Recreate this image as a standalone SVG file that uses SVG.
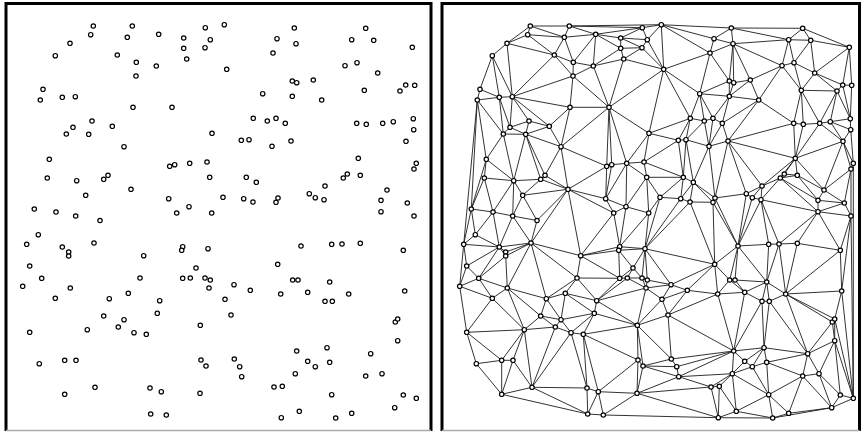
<svg xmlns="http://www.w3.org/2000/svg" width="861" height="432" viewBox="0 0 861 432">
<style>
.frame{stroke:#000;stroke-width:3;fill:none}
.base{stroke:#aaa;stroke-width:1.5;fill:none}
.e{stroke:#1c1c1c;stroke-width:0.9;fill:none;stroke-linecap:round}
.p circle{fill:#fff;stroke:#000;stroke-width:1.2}
</style>
<defs>
<g id="pts" class="p">
<circle cx="93.3" cy="26" r="2.2"/><circle cx="132.3" cy="26" r="2.2"/><circle cx="205.3" cy="27.7" r="2.2"/><circle cx="90.7" cy="34.7" r="2.2"/><circle cx="127.3" cy="37.3" r="2.2"/><circle cx="158.7" cy="34.3" r="2.2"/><circle cx="183.7" cy="38" r="2.2"/><circle cx="210.3" cy="39.7" r="2.2"/><circle cx="70" cy="43.3" r="2.2"/><circle cx="183.7" cy="48.3" r="2.2"/><circle cx="205" cy="47.7" r="2.2"/><circle cx="55.3" cy="55.7" r="2.2"/><circle cx="117.3" cy="55" r="2.2"/><circle cx="136.3" cy="62.3" r="2.2"/><circle cx="156.3" cy="66" r="2.2"/><circle cx="186.7" cy="59" r="2.2"/><circle cx="136" cy="76" r="2.2"/><circle cx="43" cy="89.3" r="2.2"/><circle cx="40.3" cy="100" r="2.2"/><circle cx="62.3" cy="97.3" r="2.2"/><circle cx="75.3" cy="96.7" r="2.2"/><circle cx="133" cy="107.3" r="2.2"/><circle cx="172" cy="107.3" r="2.2"/><circle cx="92" cy="121" r="2.2"/><circle cx="73" cy="127.3" r="2.2"/><circle cx="66.3" cy="134" r="2.2"/><circle cx="88.7" cy="134.3" r="2.2"/><circle cx="112.3" cy="126.3" r="2.2"/><circle cx="212" cy="133.3" r="2.2"/><circle cx="124" cy="146.7" r="2.2"/><circle cx="49.3" cy="159.3" r="2.2"/><circle cx="169.7" cy="166.3" r="2.2"/><circle cx="174.7" cy="164.7" r="2.2"/><circle cx="189.7" cy="163.3" r="2.2"/><circle cx="207" cy="162" r="2.2"/><circle cx="47.3" cy="178" r="2.2"/><circle cx="76.7" cy="180.7" r="2.2"/><circle cx="103.7" cy="179.3" r="2.2"/><circle cx="108" cy="175.3" r="2.2"/><circle cx="209.7" cy="177.3" r="2.2"/><circle cx="131" cy="189.3" r="2.2"/><circle cx="85.7" cy="195.3" r="2.2"/><circle cx="168.7" cy="198.7" r="2.2"/><circle cx="189" cy="206.7" r="2.2"/><circle cx="34.3" cy="209" r="2.2"/><circle cx="56" cy="212" r="2.2"/><circle cx="75.7" cy="216" r="2.2"/><circle cx="176.7" cy="213" r="2.2"/><circle cx="211.7" cy="213" r="2.2"/><circle cx="100" cy="220.5" r="2.2"/>
<circle cx="224.3" cy="24.7" r="2.2"/><circle cx="294.3" cy="28" r="2.2"/><circle cx="365.7" cy="28.3" r="2.2"/><circle cx="277" cy="38.7" r="2.2"/><circle cx="296" cy="43.7" r="2.2"/><circle cx="351.7" cy="39.7" r="2.2"/><circle cx="373.7" cy="40.3" r="2.2"/><circle cx="412.3" cy="47.3" r="2.2"/><circle cx="273" cy="53" r="2.2"/><circle cx="226.7" cy="69.3" r="2.2"/><circle cx="345" cy="65.7" r="2.2"/><circle cx="357" cy="62.7" r="2.2"/><circle cx="377.7" cy="73" r="2.2"/><circle cx="292.3" cy="81" r="2.2"/><circle cx="296.7" cy="82.7" r="2.2"/><circle cx="313.3" cy="80" r="2.2"/><circle cx="262.7" cy="93.7" r="2.2"/><circle cx="292.3" cy="96.3" r="2.2"/><circle cx="321.7" cy="100" r="2.2"/><circle cx="364.3" cy="90.3" r="2.2"/><circle cx="400" cy="91" r="2.2"/><circle cx="405.7" cy="85" r="2.2"/><circle cx="414.7" cy="85.3" r="2.2"/><circle cx="253.3" cy="118.3" r="2.2"/><circle cx="267.3" cy="121" r="2.2"/><circle cx="276" cy="118.3" r="2.2"/><circle cx="285.3" cy="123.3" r="2.2"/><circle cx="356.7" cy="123.3" r="2.2"/><circle cx="366.3" cy="124.3" r="2.2"/><circle cx="382.7" cy="123.3" r="2.2"/><circle cx="393.3" cy="121.7" r="2.2"/><circle cx="413.3" cy="118.7" r="2.2"/><circle cx="413.7" cy="129.7" r="2.2"/><circle cx="241.3" cy="140.3" r="2.2"/><circle cx="249" cy="139.7" r="2.2"/><circle cx="272" cy="146.3" r="2.2"/><circle cx="291" cy="141" r="2.2"/><circle cx="406" cy="141.3" r="2.2"/><circle cx="358.3" cy="158.3" r="2.2"/><circle cx="416.3" cy="163.3" r="2.2"/><circle cx="414" cy="169" r="2.2"/><circle cx="246.3" cy="177.3" r="2.2"/><circle cx="256.3" cy="182.3" r="2.2"/><circle cx="343.3" cy="178" r="2.2"/><circle cx="347.3" cy="174" r="2.2"/><circle cx="360.3" cy="175.3" r="2.2"/><circle cx="325" cy="186" r="2.2"/><circle cx="223" cy="197.3" r="2.2"/><circle cx="243.7" cy="198.7" r="2.2"/><circle cx="253" cy="202" r="2.2"/><circle cx="276" cy="202.3" r="2.2"/><circle cx="278" cy="198" r="2.2"/><circle cx="309.3" cy="193.7" r="2.2"/><circle cx="315.3" cy="197.7" r="2.2"/><circle cx="324" cy="199.7" r="2.2"/><circle cx="387" cy="190" r="2.2"/><circle cx="381" cy="200.3" r="2.2"/><circle cx="407.3" cy="203" r="2.2"/><circle cx="381" cy="211.7" r="2.2"/><circle cx="414" cy="216" r="2.2"/>
<circle cx="38.3" cy="234.7" r="2.2"/><circle cx="26.7" cy="244.3" r="2.2"/><circle cx="62.3" cy="247" r="2.2"/><circle cx="68.7" cy="252" r="2.2"/><circle cx="68.7" cy="256" r="2.2"/><circle cx="94" cy="243" r="2.2"/><circle cx="143.7" cy="255.7" r="2.2"/><circle cx="182.7" cy="246.7" r="2.2"/><circle cx="181.7" cy="250.3" r="2.2"/><circle cx="208" cy="248.7" r="2.2"/><circle cx="29.7" cy="266" r="2.2"/><circle cx="41.7" cy="278.3" r="2.2"/><circle cx="22.7" cy="286.3" r="2.2"/><circle cx="70.3" cy="288" r="2.2"/><circle cx="140" cy="278" r="2.2"/><circle cx="182.7" cy="278.3" r="2.2"/><circle cx="190.3" cy="278" r="2.2"/><circle cx="205" cy="278" r="2.2"/><circle cx="210.3" cy="280" r="2.2"/><circle cx="209" cy="288" r="2.2"/><circle cx="55.3" cy="298.3" r="2.2"/><circle cx="109.3" cy="298.7" r="2.2"/><circle cx="128.3" cy="293.3" r="2.2"/><circle cx="159.7" cy="300.7" r="2.2"/><circle cx="196" cy="268" r="2.2"/><circle cx="157.3" cy="313.3" r="2.2"/><circle cx="103.7" cy="316" r="2.2"/><circle cx="124" cy="319.7" r="2.2"/><circle cx="118.3" cy="327" r="2.2"/><circle cx="87.3" cy="329.7" r="2.2"/><circle cx="134" cy="332.7" r="2.2"/><circle cx="146.3" cy="334.3" r="2.2"/><circle cx="29.7" cy="332.3" r="2.2"/><circle cx="200.3" cy="325.3" r="2.2"/><circle cx="64.7" cy="360.3" r="2.2"/><circle cx="76" cy="360.3" r="2.2"/><circle cx="39.3" cy="363.7" r="2.2"/><circle cx="201" cy="360" r="2.2"/><circle cx="206" cy="366" r="2.2"/><circle cx="95" cy="387.3" r="2.2"/><circle cx="64.7" cy="394.3" r="2.2"/><circle cx="150" cy="388" r="2.2"/><circle cx="161.3" cy="391.7" r="2.2"/><circle cx="200" cy="393.3" r="2.2"/><circle cx="150.7" cy="414" r="2.2"/><circle cx="166.3" cy="415" r="2.2"/>
<circle cx="301" cy="246" r="2.2"/><circle cx="331.7" cy="244.3" r="2.2"/><circle cx="342" cy="244" r="2.2"/><circle cx="360.3" cy="243.3" r="2.2"/><circle cx="403.3" cy="250.3" r="2.2"/><circle cx="277.7" cy="264.3" r="2.2"/><circle cx="292.7" cy="280" r="2.2"/><circle cx="298" cy="280" r="2.2"/><circle cx="329.7" cy="282" r="2.2"/><circle cx="234" cy="284.7" r="2.2"/><circle cx="250.3" cy="290.3" r="2.2"/><circle cx="280.7" cy="294" r="2.2"/><circle cx="307.7" cy="292.3" r="2.2"/><circle cx="348.7" cy="294" r="2.2"/><circle cx="404.7" cy="291" r="2.2"/><circle cx="225" cy="299.3" r="2.2"/><circle cx="325" cy="301.3" r="2.2"/><circle cx="332.3" cy="301.3" r="2.2"/><circle cx="231" cy="315" r="2.2"/><circle cx="395.3" cy="322" r="2.2"/><circle cx="397.7" cy="319" r="2.2"/><circle cx="397.7" cy="340.7" r="2.2"/><circle cx="296.7" cy="351" r="2.2"/><circle cx="327" cy="347.7" r="2.2"/><circle cx="370.7" cy="353.7" r="2.2"/><circle cx="234.3" cy="359" r="2.2"/><circle cx="239.7" cy="366.7" r="2.2"/><circle cx="241.7" cy="376.7" r="2.2"/><circle cx="307.7" cy="361.3" r="2.2"/><circle cx="315.3" cy="366.7" r="2.2"/><circle cx="329.7" cy="362.3" r="2.2"/><circle cx="295.3" cy="373.7" r="2.2"/><circle cx="365.7" cy="376" r="2.2"/><circle cx="382" cy="373.7" r="2.2"/><circle cx="274" cy="387" r="2.2"/><circle cx="282.3" cy="386.3" r="2.2"/><circle cx="331.7" cy="394.7" r="2.2"/><circle cx="403.3" cy="395" r="2.2"/><circle cx="416.3" cy="398.3" r="2.2"/><circle cx="394.7" cy="407.7" r="2.2"/><circle cx="299.3" cy="411.3" r="2.2"/><circle cx="351.7" cy="413.3" r="2.2"/><circle cx="281.3" cy="417.7" r="2.2"/><circle cx="335.7" cy="418" r="2.2"/>
</g>
</defs>
<rect width="861" height="432" fill="#fff"/>
<g id="left-panel">
<path class="frame" d="M6 431V3.5H431V431"/>
<path class="base" d="M6 430.5H431"/>
<use href="#pts"/>
</g>
<g id="right-panel">
<path class="frame" d="M442 431V3.5H859.5V431"/>
<path class="base" d="M442 430.5H859.5"/>
<g id="connectors" transform="translate(437,0)">
<path class="e" d="M93.3 26L132.3 26M93.3 26L90.7 34.7M93.3 26L127.3 37.3M93.3 26L70 43.3M132.3 26L127.3 37.3M132.3 26L158.7 34.3M132.3 26L205.3 27.7M132.3 26L224.3 24.7M205.3 27.7L158.7 34.3M205.3 27.7L183.7 38M205.3 27.7L210.3 39.7M205.3 27.7L224.3 24.7M90.7 34.7L127.3 37.3M90.7 34.7L70 43.3M90.7 34.7L117.3 55M127.3 37.3L117.3 55M127.3 37.3L136.3 62.3M127.3 37.3L158.7 34.3M158.7 34.3L136.3 62.3M158.7 34.3L156.3 66M158.7 34.3L183.7 38M158.7 34.3L183.7 48.3M183.7 38L183.7 48.3M183.7 38L205 47.7M183.7 38L210.3 39.7M210.3 39.7L205 47.7M210.3 39.7L224.3 24.7M210.3 39.7L226.7 69.3M183.7 48.3L205 47.7M183.7 48.3L156.3 66M183.7 48.3L186.7 59M205 47.7L186.7 59M205 47.7L226.7 69.3M186.7 59L226.7 69.3M136.3 62.3L156.3 66M117.3 55L136.3 62.3M136.3 62.3L136 76M156.3 66L136 76M117.3 55L136 76M156.3 66L186.7 59M156.3 66L172 107.3M186.7 59L172 107.3M136 76L172 107.3M172 107.3L226.7 69.3M70 43.3L55.3 55.7M70 43.3L117.3 55M70 43.3L75.3 96.7M55.3 55.7L75.3 96.7M117.3 55L75.3 96.7M55.3 55.7L43 89.3M55.3 55.7L62.3 97.3M43 89.3L62.3 97.3M43 89.3L40.3 100M40.3 100L62.3 97.3M62.3 97.3L75.3 96.7M136 76L75.3 96.7M75.3 96.7L133 107.3M136 76L133 107.3M133 107.3L172 107.3M75.3 96.7L92 121M75.3 96.7L73 127.3M62.3 97.3L73 127.3M62.3 97.3L66.3 134M40.3 100L66.3 134M73 127.3L66.3 134M92 121L73 127.3M75.3 96.7L112.3 126.3M92 121L112.3 126.3M133 107.3L112.3 126.3M73 127.3L88.7 134.3M92 121L88.7 134.3M66.3 134L88.7 134.3M88.7 134.3L112.3 126.3M112.3 126.3L124 146.7M133 107.3L124 146.7M88.7 134.3L124 146.7M172 107.3L124 146.7M172 107.3L212 133.3M212 133.3L226.7 69.3"/>
<path class="e" d="M40.3 100L49.3 159.3M40.3 100L34.3 209M40.3 100L26.7 244.3M66.3 134L49.3 159.3M66.3 134L76.7 180.7M88.7 134.3L76.7 180.7M49.3 159.3L76.7 180.7M49.3 159.3L47.3 178M49.3 159.3L34.3 209M47.3 178L34.3 209M47.3 178L76.7 180.7M47.3 178L56 212M76.7 180.7L56 212M76.7 180.7L75.7 216M76.7 180.7L85.7 195.3M76.7 180.7L103.7 179.3M88.7 134.3L103.7 179.3M88.7 134.3L108 175.3M103.7 179.3L108 175.3M124 146.7L108 175.3M103.7 179.3L85.7 195.3M103.7 179.3L131 189.3M108 175.3L131 189.3M124 146.7L131 189.3M131 189.3L85.7 195.3M85.7 195.3L100 220.5M85.7 195.3L75.7 216M131 189.3L100 220.5M75.7 216L100 220.5M34.3 209L56 212M34.3 209L38.3 234.7M34.3 209L26.7 244.3M38.3 234.7L26.7 244.3M56 212L38.3 234.7M56 212L75.7 216M56 212L62.3 247M38.3 234.7L62.3 247M75.7 216L62.3 247M75.7 216L94 243M100 220.5L94 243M62.3 247L94 243M62.3 247L68.7 252M68.7 252L68.7 256M62.3 247L68.7 256M68.7 252L94 243M68.7 256L94 243M94 243L143.7 255.7M131 189.3L94 243M131 189.3L143.7 255.7M131 189.3L176.7 213M131 189.3L168.7 198.7M168.7 198.7L176.7 213M176.7 213L143.7 255.7M124 146.7L169.7 166.3M169.7 166.3L131 189.3M169.7 166.3L168.7 198.7M169.7 166.3L174.7 164.7M174.7 164.7L168.7 198.7M174.7 164.7L189.7 163.3M189.7 163.3L168.7 198.7M189.7 163.3L189 206.7M168.7 198.7L189 206.7M189 206.7L176.7 213M172 107.3L169.7 166.3M172 107.3L174.7 164.7M172 107.3L189.7 163.3M212 133.3L189.7 163.3M212 133.3L207 162M189.7 163.3L207 162M189.7 163.3L209.7 177.3M207 162L209.7 177.3M209.7 177.3L189 206.7M209.7 177.3L211.7 213M189 206.7L211.7 213M212 133.3L241.3 140.3M212 133.3L253.3 118.3M207 162L241.3 140.3M207 162L246.3 177.3M209.7 177.3L246.3 177.3M209.7 177.3L223 197.3M211.7 213L223 197.3"/>
<path class="e" d="M176.7 213L182.7 246.7M189 206.7L182.7 246.7M211.7 213L182.7 246.7M211.7 213L208 248.7M223 197.3L208 248.7M143.7 255.7L182.7 246.7M182.7 246.7L181.7 250.3M143.7 255.7L181.7 250.3M181.7 250.3L182.7 278.3M143.7 255.7L182.7 278.3M143.7 255.7L140 278M94 243L140 278M94 243L109.3 298.7M140 278L182.7 278.3M182.7 246.7L208 248.7M181.7 250.3L208 248.7M181.7 250.3L196 268M208 248.7L196 268M182.7 278.3L196 268M190.3 278L196 268M205 278L196 268M182.7 278.3L190.3 278M190.3 278L205 278M205 278L210.3 280M210.3 280L209 288M205 278L209 288M190.3 278L209 288M208 248.7L205 278M208 248.7L210.3 280M208 248.7L234 284.7M210.3 280L234 284.7M209 288L234 284.7M182.7 278.3L159.7 300.7M190.3 278L159.7 300.7M209 288L159.7 300.7M140 278L159.7 300.7M140 278L109.3 298.7M140 278L128.3 293.3M109.3 298.7L128.3 293.3M128.3 293.3L159.7 300.7M128.3 293.3L157.3 313.3M159.7 300.7L157.3 313.3M209 288L200.3 325.3M159.7 300.7L200.3 325.3M157.3 313.3L200.3 325.3M128.3 293.3L124 319.7M109.3 298.7L124 319.7M157.3 313.3L124 319.7M124 319.7L134 332.7M157.3 313.3L134 332.7M157.3 313.3L146.3 334.3M134 332.7L146.3 334.3M146.3 334.3L200.3 325.3M146.3 334.3L201 360M200.3 325.3L201 360M200.3 325.3L225 299.3M209 288L225 299.3M234 284.7L225 299.3M200.3 325.3L231 315M225 299.3L231 315M200.3 325.3L234.3 359M200.3 325.3L206 366M201 360L206 366M206 366L234.3 359M206 366L239.7 366.7M206 366L241.7 376.7M206 366L200 393.3M200 393.3L241.7 376.7M201 360L200 393.3M201 360L161.3 391.7M161.3 391.7L200 393.3M146.3 334.3L161.3 391.7M146.3 334.3L150 388M150 388L161.3 391.7M134 332.7L150 388M134 332.7L95 387.3M118.3 327L134 332.7M118.3 327L95 387.3M124 319.7L118.3 327M103.7 316L124 319.7M103.7 316L118.3 327M109.3 298.7L103.7 316M70.3 288L109.3 298.7M94 243L70.3 288M68.7 256L70.3 288M68.7 256L41.7 278.3M62.3 247L41.7 278.3M62.3 247L29.7 266M26.7 244.3L62.3 247M26.7 244.3L29.7 266M29.7 266L41.7 278.3M29.7 266L22.7 286.3M26.7 244.3L22.7 286.3M41.7 278.3L22.7 286.3M41.7 278.3L70.3 288M41.7 278.3L55.3 298.3M22.7 286.3L55.3 298.3M22.7 286.3L29.7 332.3M70.3 288L55.3 298.3M70.3 288L103.7 316M70.3 288L87.3 329.7M55.3 298.3L87.3 329.7M55.3 298.3L29.7 332.3M103.7 316L87.3 329.7M118.3 327L87.3 329.7M87.3 329.7L29.7 332.3M87.3 329.7L64.7 360.3M87.3 329.7L76 360.3M87.3 329.7L95 387.3M29.7 332.3L64.7 360.3M29.7 332.3L39.3 363.7M64.7 360.3L39.3 363.7M64.7 360.3L76 360.3M64.7 360.3L64.7 394.3M39.3 363.7L64.7 394.3M76 360.3L64.7 394.3M76 360.3L95 387.3M95 387.3L64.7 394.3M95 387.3L150 388M95 387.3L150.7 414M64.7 394.3L150.7 414M150 388L150.7 414M161.3 391.7L150.7 414M161.3 391.7L166.3 415M150.7 414L166.3 415M200 393.3L166.3 415M200 393.3L274 387M200 393.3L281.3 417.7M166.3 415L281.3 417.7"/>
<path class="e" d="M223 197.3L243.7 198.7M243.7 198.7L208 248.7M243.7 198.7L253 202M253 202L208 248.7M208 248.7L277.7 264.3M253 202L277.7 264.3M253 202L276 202.3M276 202.3L277.7 264.3M277.7 264.3L234 284.7M277.7 264.3L250.3 290.3M234 284.7L250.3 290.3M250.3 290.3L225 299.3M250.3 290.3L231 315M250.3 290.3L280.7 294M277.7 264.3L280.7 294M280.7 294L231 315M277.7 264.3L292.7 280M292.7 280L280.7 294M301 246L277.7 264.3M301 246L292.7 280M292.7 280L298 280M301 246L298 280M276 202.3L301 246M276 202.3L278 198M278 198L301 246M278 198L309.3 193.7M309.3 193.7L301 246M309.3 193.7L315.3 197.7M315.3 197.7L301 246M315.3 197.7L324 199.7M324 199.7L301 246M324 199.7L331.7 244.3M301 246L331.7 244.3M298 280L329.7 282M301 246L329.7 282M331.7 244.3L329.7 282M331.7 244.3L342 244M342 244L329.7 282M342 244L348.7 294M329.7 282L348.7 294M342 244L360.3 243.3M360.3 243.3L348.7 294M292.7 280L307.7 292.3M298 280L307.7 292.3M329.7 282L307.7 292.3M280.7 294L307.7 292.3M307.7 292.3L325 301.3M329.7 282L325 301.3M329.7 282L332.3 301.3M325 301.3L332.3 301.3M348.7 294L332.3 301.3M280.7 294L296.7 351M307.7 292.3L296.7 351M325 301.3L296.7 351M325 301.3L327 347.7M296.7 351L327 347.7M332.3 301.3L327 347.7M332.3 301.3L370.7 353.7M327 347.7L370.7 353.7M348.7 294L370.7 353.7M348.7 294L395.3 322M395.3 322L370.7 353.7M348.7 294L397.7 319M395.3 322L397.7 319M348.7 294L404.7 291M404.7 291L397.7 319M360.3 243.3L403.3 250.3M403.3 250.3L348.7 294M403.3 250.3L404.7 291M381 211.7L342 244M381 211.7L360.3 243.3M381 211.7L403.3 250.3M324 199.7L342 244M324 199.7L381 211.7M414 216L403.3 250.3M414 216L404.7 291M404.7 291L416.3 398.3M397.7 319L416.3 398.3M397.7 319L397.7 340.7M395.3 322L397.7 340.7M397.7 340.7L416.3 398.3M397.7 340.7L370.7 353.7M397.7 340.7L382 373.7M397.7 340.7L403.3 395M403.3 395L416.3 398.3M382 373.7L403.3 395M382 373.7L394.7 407.7M403.3 395L394.7 407.7M416.3 398.3L394.7 407.7M370.7 353.7L382 373.7M370.7 353.7L365.7 376M365.7 376L382 373.7M365.7 376L394.7 407.7M365.7 376L351.7 413.3M394.7 407.7L351.7 413.3M394.7 407.7L335.7 418M351.7 413.3L335.7 418M331.7 394.7L351.7 413.3M331.7 394.7L335.7 418M365.7 376L331.7 394.7M329.7 362.3L365.7 376M370.7 353.7L329.7 362.3M327 347.7L329.7 362.3M327 347.7L315.3 366.7M327 347.7L307.7 361.3M296.7 351L307.7 361.3M307.7 361.3L315.3 366.7M315.3 366.7L329.7 362.3M329.7 362.3L331.7 394.7M315.3 366.7L331.7 394.7M315.3 366.7L295.3 373.7M307.7 361.3L295.3 373.7M296.7 351L295.3 373.7M295.3 373.7L331.7 394.7M331.7 394.7L299.3 411.3M299.3 411.3L335.7 418M295.3 373.7L299.3 411.3M299.3 411.3L281.3 417.7M281.3 417.7L335.7 418M282.3 386.3L299.3 411.3M282.3 386.3L281.3 417.7M295.3 373.7L282.3 386.3M274 387L282.3 386.3M274 387L281.3 417.7M295.3 373.7L274 387M241.7 376.7L274 387M241.7 376.7L295.3 373.7M296.7 351L241.7 376.7M296.7 351L239.7 366.7M239.7 366.7L241.7 376.7M234.3 359L239.7 366.7M296.7 351L234.3 359M231 315L234.3 359M231 315L296.7 351"/>
<path class="e" d="M224.3 24.7L294.3 28M224.3 24.7L277 38.7M224.3 24.7L273 53M224.3 24.7L226.7 69.3M277 38.7L273 53M294.3 28L277 38.7M294.3 28L296 43.7M277 38.7L296 43.7M296 43.7L273 53M294.3 28L351.7 39.7M296 43.7L351.7 39.7M296 43.7L345 65.7M351.7 39.7L345 65.7M294.3 28L365.7 28.3M365.7 28.3L351.7 39.7M365.7 28.3L373.7 40.3M351.7 39.7L373.7 40.3M351.7 39.7L357 62.7M373.7 40.3L357 62.7M345 65.7L357 62.7M373.7 40.3L377.7 73M357 62.7L377.7 73M365.7 28.3L412.3 47.3M373.7 40.3L412.3 47.3M412.3 47.3L377.7 73M273 53L226.7 69.3M273 53L292.3 81M296 43.7L292.3 81M296 43.7L296.7 82.7M296 43.7L313.3 80M292.3 81L296.7 82.7M296.7 82.7L313.3 80M345 65.7L313.3 80M273 53L262.7 93.7M226.7 69.3L262.7 93.7M292.3 81L262.7 93.7M292.3 81L292.3 96.3M262.7 93.7L292.3 96.3M296.7 82.7L292.3 96.3M313.3 80L292.3 96.3M313.3 80L321.7 100M292.3 96.3L321.7 100M345 65.7L321.7 100M345 65.7L364.3 90.3M357 62.7L364.3 90.3M377.7 73L364.3 90.3M377.7 73L400 91M377.7 73L405.7 85M412.3 47.3L405.7 85M400 91L405.7 85M405.7 85L414.7 85.3M412.3 47.3L414.7 85.3M364.3 90.3L400 91M364.3 90.3L356.7 123.3M321.7 100L356.7 123.3M364.3 90.3L366.3 124.3M356.7 123.3L366.3 124.3M364.3 90.3L382.7 123.3M366.3 124.3L382.7 123.3M400 91L382.7 123.3M400 91L393.3 121.7M382.7 123.3L393.3 121.7M400 91L413.3 118.7M405.7 85L413.3 118.7M414.7 85.3L413.3 118.7M393.3 121.7L413.3 118.7M393.3 121.7L413.7 129.7M413.3 118.7L413.7 129.7M413.7 129.7L416.3 163.3M393.3 121.7L406 141.3M413.7 129.7L406 141.3M382.7 123.3L406 141.3M382.7 123.3L358.3 158.3M366.3 124.3L358.3 158.3M356.7 123.3L358.3 158.3M406 141.3L358.3 158.3M406 141.3L416.3 163.3M406 141.3L414 169M416.3 163.3L414 169M406 141.3L387 190M358.3 158.3L387 190M414 169L387 190M414 169L407.3 203M387 190L407.3 203M414 169L414 216M407.3 203L414 216M416.3 163.3L416.3 398.3M414 216L416.3 398.3M226.7 69.3L253.3 118.3M262.7 93.7L253.3 118.3M253.3 118.3L267.3 121M262.7 93.7L267.3 121M267.3 121L276 118.3M262.7 93.7L276 118.3M292.3 96.3L276 118.3M276 118.3L285.3 123.3M292.3 96.3L285.3 123.3M321.7 100L285.3 123.3M321.7 100L291 141M285.3 123.3L291 141M356.7 123.3L291 141M291 141L358.3 158.3M253.3 118.3L241.3 140.3M253.3 118.3L249 139.7M241.3 140.3L249 139.7M267.3 121L249 139.7M267.3 121L272 146.3M249 139.7L272 146.3M276 118.3L272 146.3M285.3 123.3L272 146.3M272 146.3L291 141M241.3 140.3L246.3 177.3M249 139.7L246.3 177.3M249 139.7L256.3 182.3M246.3 177.3L256.3 182.3M272 146.3L256.3 182.3M246.3 177.3L223 197.3M246.3 177.3L243.7 198.7M256.3 182.3L243.7 198.7M256.3 182.3L253 202M256.3 182.3L276 202.3M256.3 182.3L278 198M272 146.3L278 198M291 141L278 198M291 141L309.3 193.7M291 141L325 186M325 186L309.3 193.7M325 186L315.3 197.7M325 186L324 199.7M358.3 158.3L325 186M343.3 178L325 186M358.3 158.3L343.3 178M343.3 178L347.3 174M358.3 158.3L347.3 174M347.3 174L360.3 175.3M358.3 158.3L360.3 175.3M343.3 178L360.3 175.3M360.3 175.3L387 190M360.3 175.3L381 200.3M387 190L381 200.3M381 200.3L407.3 203M343.3 178L324 199.7M343.3 178L381 200.3M343.3 178L381 211.7M381 200.3L381 211.7M407.3 203L381 211.7M381 211.7L414 216"/>
</g>
<use href="#pts" x="437"/>
</g>
</svg>
